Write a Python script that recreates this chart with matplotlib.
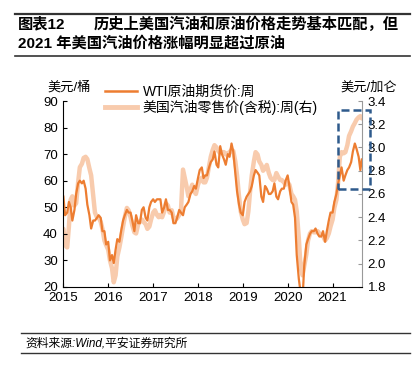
import numpy as np
import pandas as pd
import matplotlib
matplotlib.use("Agg")
import matplotlib.pyplot as plt
import matplotlib.dates as mdates
from matplotlib.lines import Line2D
from matplotlib.patches import Rectangle

plt.rcParams['font.family'] = ['Liberation Sans', 'Noto Sans CJK SC', 'DejaVu Sans']

# semi-monthly sample dates + last weekly point
dates = list(pd.date_range('2015-01-01', '2021-08-15', freq='SMS')) + [pd.Timestamp('2021-08-27')]

# WTI crude futures, USD/bbl
wti = [54, 47, 48, 52, 50, 45, 49, 55, 59, 60, 59, 60, 57, 51, 47, 42, 45, 45, 46, 47, 46, 41, 41, 36,
       37, 30, 32, 29, 34, 38, 37, 41, 45, 47, 49, 48, 48, 45, 41, 47, 44, 44, 49, 50, 46, 45, 50, 52,
       53, 52, 53, 53, 53, 48, 50, 53, 49, 49, 48, 44, 44, 46, 49, 48, 47, 50, 51, 52, 55, 56, 58, 57,
       61, 64, 65, 61, 62, 62, 65, 67, 68, 71, 66, 65, 73, 70, 68, 66, 70, 69, 74, 71, 63, 56, 51, 48,
       47, 52, 54, 55, 56, 58, 62, 64, 63, 62, 54, 52, 58, 57, 55, 55, 56, 59, 54, 53, 56, 57, 57, 60,
       62, 58, 52, 51, 46, 32, 23, 18, 15, 28, 36, 38, 40, 41, 41, 42, 40, 39, 39, 41, 37, 41, 45, 48,
       48, 52, 55, 59, 62, 65, 60, 62, 64, 65, 67, 71, 74, 72, 69, 64, 68]

# US retail gasoline incl. tax, USD/gal
gasoline = [2.30, 2.16, 2.14, 2.32, 2.55, 2.58, 2.50, 2.52, 2.70, 2.83, 2.86, 2.91, 2.92, 2.90, 2.82, 2.76, 2.58, 2.44, 2.40, 2.40, 2.36, 2.30, 2.20, 2.16,
            2.12, 2.03, 1.96, 1.84, 1.90, 2.06, 2.14, 2.22, 2.32, 2.40, 2.48, 2.46, 2.40, 2.33, 2.27, 2.26, 2.34, 2.36, 2.38, 2.36, 2.34, 2.30, 2.32, 2.38,
            2.44, 2.46, 2.42, 2.40, 2.42, 2.40, 2.45, 2.52, 2.50, 2.44, 2.46, 2.40, 2.38, 2.39, 2.42, 2.45, 2.81, 2.74, 2.66, 2.58, 2.64, 2.68, 2.62, 2.60,
            2.68, 2.72, 2.74, 2.70, 2.70, 2.74, 2.84, 2.92, 2.98, 3.02, 3.00, 2.97, 2.95, 2.96, 2.96, 2.94, 2.95, 2.96, 2.98, 2.97, 2.88, 2.76, 2.58, 2.45,
            2.38, 2.34, 2.35, 2.45, 2.62, 2.76, 2.88, 2.96, 2.94, 2.88, 2.85, 2.80, 2.82, 2.85, 2.78, 2.74, 2.72, 2.72, 2.78, 2.75, 2.72, 2.72, 2.70, 2.68,
            2.70, 2.68, 2.60, 2.58, 2.55, 2.45, 2.22, 1.97, 1.90, 1.98, 2.08, 2.20, 2.26, 2.28, 2.27, 2.27, 2.28, 2.26, 2.25, 2.24, 2.20, 2.22, 2.26, 2.32,
            2.38, 2.48, 2.55, 2.70, 2.92, 2.96, 2.95, 2.96, 3.02, 3.10, 3.14, 3.18, 3.21, 3.24, 3.26, 3.27, 3.25]

c_wti = '#ED7D31'
c_gas = '#F8CBAD'

fig = plt.figure(figsize=(4.17, 3.66), dpi=100)
ax = fig.add_axes([0.152, 0.216, 0.716, 0.508])
ax2 = ax.twinx()
ax.set_zorder(ax2.get_zorder() + 1)
ax.patch.set_visible(False)

ax2.plot(dates, gasoline, color=c_gas, lw=3.2, solid_capstyle='round')
ax.plot(dates, wti, color=c_wti, lw=1.6)

ax.set_ylim(20, 90)
ax.set_yticks(np.arange(20, 91, 10))
ax2.set_ylim(1.8, 3.4)
ax2.set_yticks(np.arange(1.8, 3.41, 0.2))
ax2.yaxis.set_major_formatter(matplotlib.ticker.FormatStrFormatter('%.1f'))

ax.set_xlim(pd.Timestamp('2015-01-01'), pd.Timestamp('2021-08-28'))
ax.xaxis.set_major_locator(mdates.YearLocator())
ax.xaxis.set_major_formatter(mdates.DateFormatter('%Y'))

for a in (ax, ax2):
    a.spines['top'].set_visible(False)
    a.tick_params(direction='in', labelsize=9.5, length=3, pad=4)
ax.spines['right'].set_visible(False)
ax2.spines['left'].set_visible(False)
ax2.spines['bottom'].set_visible(False)
ax2.spines['right'].set_color('#999999')
ax2.tick_params(axis='y', color='#999999')

# highlight box for 2021
box = Rectangle((mdates.date2num(pd.Timestamp('2021-02-14')), 56.9),
                mdates.date2num(pd.Timestamp('2021-11-03')) - mdates.date2num(pd.Timestamp('2021-02-14')),
                86.6 - 56.9, fill=False, ec='#2E5A8C', lw=1.8, ls=(0, (3.2, 1.6)),
                clip_on=False, zorder=5)
ax.add_patch(box)

# unit labels
fig.text(47 / 417, 1 - 87 / 366, '美元/桶', fontsize=9.5, va='center', ha='left')
fig.text(397 / 417, 1 - 87 / 366, '美元/加仑', fontsize=9.5, va='center', ha='right')

handles = [Line2D([], [], color=c_wti, lw=1.8), Line2D([], [], color=c_gas, lw=3.5)]
fig.legend(handles, ['WTI原油期货价:周', '美国汽油零售价(含税):周(右)'],
           loc='upper left', bbox_to_anchor=(98 / 417, 1 - 78 / 366), frameon=False,
           fontsize=10, handlelength=2.3, handletextpad=0.4, labelspacing=0.1, borderpad=0)

# title block
fig.add_artist(Line2D([15 / 417, 410 / 417], [1 - 13.5 / 366] * 2, color='#333333', lw=1.6))
fig.add_artist(Line2D([15 / 417, 410 / 417], [1 - 56 / 366] * 2, color='#333333', lw=1.2))
fig.text(18 / 417, 1 - 24 / 366, '图表12', fontsize=11, fontweight='bold', va='center')
fig.text(94 / 417, 1 - 24 / 366, '历史上美国汽油和原油价格走势基本匹配，但', fontsize=11,
         fontweight='bold', va='center')
fig.text(18 / 417, 1 - 43 / 366, '2021 年美国汽油价格涨幅明显超过原油', fontsize=11,
         fontweight='bold', va='center')

# source block
fig.add_artist(Line2D([21 / 417, 410 / 417], [1 - 332.7 / 366] * 2, color='#333333', lw=1.0))
fig.add_artist(Line2D([21 / 417, 410 / 417], [1 - 352.7 / 366] * 2, color='#333333', lw=1.0))
fig.text(25 / 417, 1 - 344 / 366, '资料来源:Wind,平安证券研究所', fontsize=8.5, style='italic', va='center')

fig.savefig('out.png', dpi=100)
